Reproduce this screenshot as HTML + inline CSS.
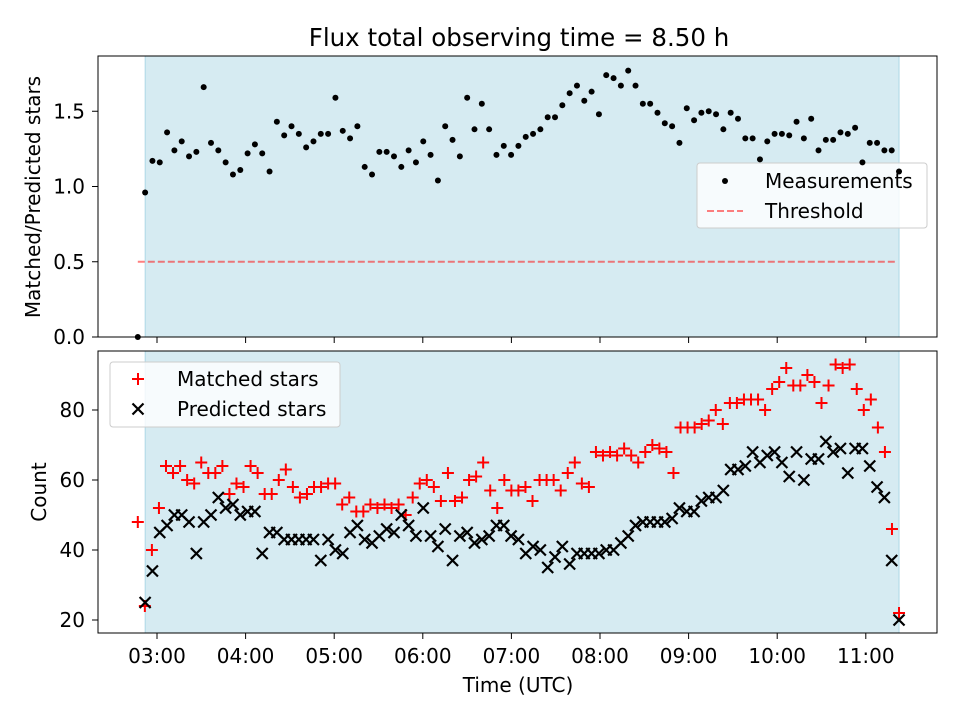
<!DOCTYPE html>
<html><head><meta charset="utf-8"><style>
body{margin:0;background:#fff;font-family:"Liberation Sans","DejaVu Sans",sans-serif}
svg text{font-family:"DejaVu Sans","Liberation Sans",sans-serif}
</style></head><body>
<svg id="fig" width="960" height="720" xmlns="http://www.w3.org/2000/svg"></svg>
<script>
const ratioVals=[0.0,0.96,1.17,1.16,1.36,1.24,1.30,1.20,1.23,1.66,1.29,1.24,1.16,1.08,1.11,1.22,1.28,1.22,1.10,1.43,1.34,1.40,1.35,1.26,1.30,1.35,1.35,1.59,1.37,1.32,1.40,1.13,1.08,1.23,1.23,1.20,1.13,1.24,1.16,1.30,1.21,1.04,1.40,1.31,1.20,1.59,1.38,1.55,1.38,1.21,1.27,1.21,1.27,1.33,1.35,1.38,1.46,1.46,1.54,1.62,1.67,1.57,1.63,1.48,1.74,1.72,1.67,1.77,1.67,1.55,1.55,1.49,1.42,1.40,1.29,1.52,1.44,1.49,1.50,1.48,1.38,1.49,1.45,1.32,1.32,1.18,1.30,1.35,1.35,1.34,1.43,1.32,1.45,1.24,1.31,1.31,1.36,1.35,1.39,1.16,1.29,1.29,1.24,1.24,1.10];
const predictedVals=[25,34,45,47,50,50,48,39,48,50,55,52,53,50,51,51,39,45,45,43,43,43,43,43,37,43,40,39,45,47,43,42,44,46,45,50,47,44,52,44,41,46,37,44,45,42,43,44,47,47,44,43,39,41,40,35,38,41,36,39,39,39,39,40,40,42,44,47,48,48,48,48,49,52,51,51,54,55,55,57,63,63,64,68,65,67,68,65,61,68,60,66,66,71,68,69,62,69,69,64,58,55,37,20];
const matchedVals=[48,24,40,52,64,62,64,60,59,65,62,62,64,56,59,58,64,62,56,56,60,63,58,55,56,58,58,59,59,53,55,51,51,53,52,53,52,53,50,55,59,60,58,54,62,54,55,60,61,65,57,52,60,57,57,58,54,60,60,60,57,62,65,59,58,68,67,68,67,69,67,65,68,70,69,68,62,75,75,75,76,77,80,76,82,82,83,83,83,80,86,88,92,87,87,90,88,82,87,93,92,93,86,80,83,75,68,46,22];
const xTickLabels=["03:00","04:00","05:00","06:00","07:00","08:00","09:00","10:00","11:00"];
const topTicks=[0.0,0.5,1.0,1.5];
const botTicks=[20,40,60,80];
const startHour=2+47/60, endHour=11+22.5/60, spanStart=2+52/60, spanEnd=11+22.5/60, threshold=0.5;

const NS="http://www.w3.org/2000/svg", svg=document.getElementById('fig');
function el(t,a,p){const e=document.createElementNS(NS,t);for(const k in a)e.setAttribute(k,a[k]);(p||svg).appendChild(e);return e;}
const L=98,R=937,FS=20;
const X=h=>157+(h-3)*88.6;
const YT=v=>337-v*150.5;
const YB=v=>620-(v-20)*3.5;
const tHour=(i,n)=>startHour+(endHour-startHour)*i/(n-1);

function axesBox(top,bot,name){
  const g=el('g',{});
  const sp=el('rect',{x:X(spanStart),y:top,width:X(spanEnd)-X(spanStart),height:bot-top,fill:'#add8e6','fill-opacity':0.5,stroke:'#add8e6'},g);
  
  return g;
}
function frame(top,bot,g){el('rect',{x:L,y:top,width:R-L,height:bot-top,fill:'none',stroke:'#000','stroke-width':1},g);}

const ti=el('text',{x:519,y:46,'font-size':24.5,'text-anchor':'middle'});ti.textContent='Flux total observing time = 8.50 h';


// top axes
const gT=axesBox(56,337,'ratio-axes');
const th=el('line',{x1:X(startHour),x2:X(endHour)-4,y1:YT(threshold),y2:YT(threshold),stroke:'#ff0000','stroke-opacity':0.5,'stroke-width':2,'stroke-dasharray':'7,3'},gT);

frame(56,337,gT);
topTicks.forEach(v=>{el('line',{x1:L-6,x2:L,y1:YT(v),y2:YT(v),stroke:'#000'},gT);
const t=el('text',{x:L-13,y:YT(v)+7,'font-size':FS,'text-anchor':'end'},gT);t.textContent=v.toFixed(1);
});
xTickLabels.forEach((s,i)=>el('line',{x1:X(3+i),x2:X(3+i),y1:337,y2:343,stroke:'#000'},gT));
const yt1=el('text',{x:40,y:197,'font-size':FS,'text-anchor':'middle',transform:'rotate(-90 40 197)'},gT);yt1.textContent='Matched/Predicted stars';

const lg1=el('g',{});
el('rect',{x:697,y:163,width:230,height:65,rx:3,fill:'#fff','fill-opacity':0.8,stroke:'#ccc'},lg1);
el('circle',{cx:725,cy:181,r:3,fill:'#000'},lg1);
let t=el('text',{x:765,y:188,'font-size':FS},lg1);t.textContent='Measurements';
el('line',{x1:707,x2:743,y1:211,y2:211,stroke:'#ff0000','stroke-opacity':0.5,'stroke-width':2,'stroke-dasharray':'7,3'},lg1);
t=el('text',{x:765,y:218,'font-size':FS},lg1);t.textContent='Threshold';
const gPts=el('g',{});
ratioVals.forEach((v,i)=>{const c=el('circle',{cx:X(tHour(i,ratioVals.length)),cy:YT(v),r:3,fill:'#000'},gPts);
});

// bottom axes
const gB=axesBox(351,633,'count-axes');
matchedVals.forEach((v,i)=>{const x=X(tHour(i,matchedVals.length)),y=YB(v);
const p=el('path',{d:`M${x-6},${y}H${x+6}M${x},${y-6}V${y+6}`,stroke:'#ff0000','stroke-width':2},gB);
});
predictedVals.forEach((v,i)=>{const x=X(startHour+(endHour-startHour)*(i+1)/(predictedVals.length)),y=YB(v);
const p=el('path',{d:`M${x-5.5},${y-5.5}L${x+5.5},${y+5.5}M${x-5.5},${y+5.5}L${x+5.5},${y-5.5}`,stroke:'#000','stroke-width':2.2},gB);
});
frame(351,633,gB);
botTicks.forEach(v=>{el('line',{x1:L-6,x2:L,y1:YB(v),y2:YB(v),stroke:'#000'},gB);
const t=el('text',{x:L-13,y:YB(v)+7,'font-size':FS,'text-anchor':'end'},gB);t.textContent=v;
});
xTickLabels.forEach((s,i)=>{el('line',{x1:X(3+i),x2:X(3+i),y1:633,y2:639,stroke:'#000'},gB);
const t=el('text',{x:X(3+i),y:663,'font-size':FS,'text-anchor':'middle'},gB);t.textContent=s;
});
const yt2=el('text',{x:46,y:492,'font-size':FS,'text-anchor':'middle',transform:'rotate(-90 46 492)'},gB);yt2.textContent='Count';

const xt=el('text',{x:518,y:692,'font-size':FS,'text-anchor':'middle'},gB);xt.textContent='Time (UTC)';

const lg2=el('g',{});
el('rect',{x:110,y:362,width:230,height:65,rx:3,fill:'#fff','fill-opacity':0.8,stroke:'#ccc'},lg2);
el('path',{d:'M132,379H144M138,373V385',stroke:'#ff0000','stroke-width':2},lg2);
t=el('text',{x:177,y:386,'font-size':FS},lg2);t.textContent='Matched stars';
el('path',{d:'M132.5,403.5L143.5,414.5M132.5,414.5L143.5,403.5',stroke:'#000','stroke-width':2.2},lg2);
t=el('text',{x:177,y:416,'font-size':FS},lg2);t.textContent='Predicted stars';
</script>
</body></html>
